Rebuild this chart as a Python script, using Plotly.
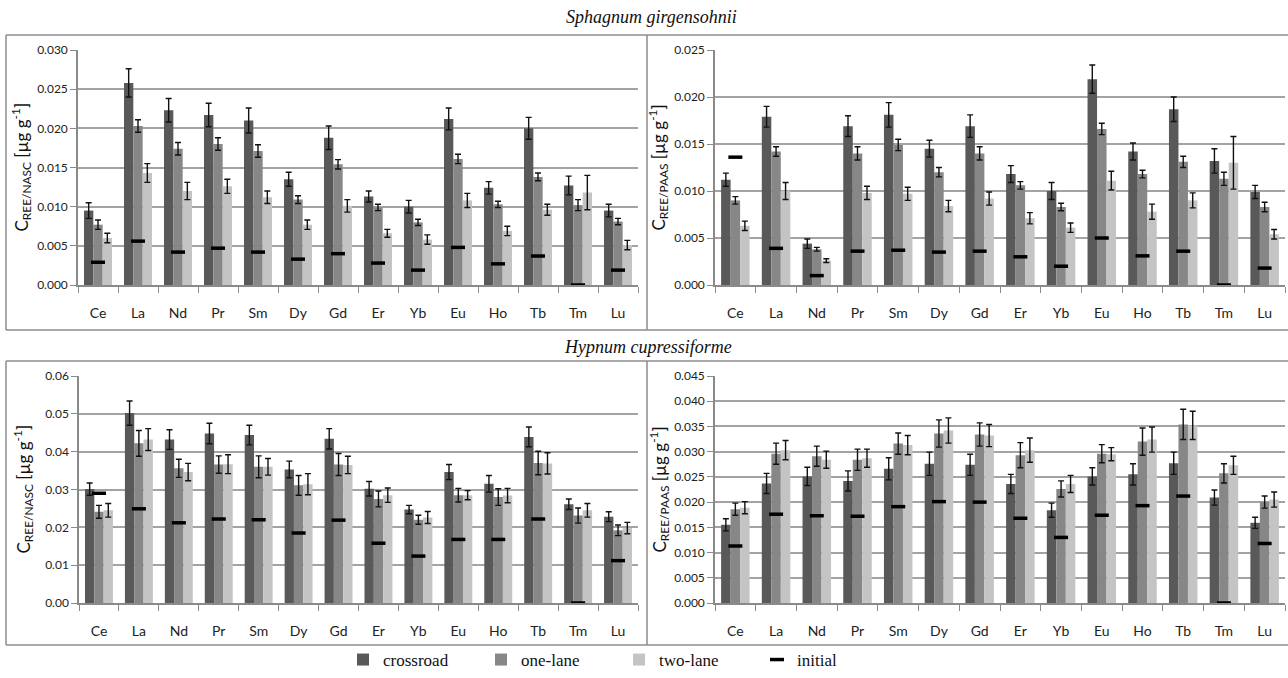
import plotly.graph_objects as go

# Rare earth elements along the x axis
elements = ["Ce", "La", "Nd", "Pr", "Sm", "Dy", "Gd", "Er", "Yb", "Eu", "Ho", "Tb", "Tm", "Lu"]

# Sphagnum girgensohnii, normalised to NASC
sg_nasc_cross = [0.0095, 0.0258, 0.0223, 0.0217, 0.0210, 0.0135, 0.0188, 0.0113, 0.0100, 0.0212, 0.0124, 0.0200, 0.0127, 0.0095]
sg_nasc_cross_err = [0.0010, 0.0018, 0.0015, 0.0015, 0.0016, 0.0009, 0.0015, 0.0007, 0.0008, 0.0014, 0.0008, 0.0014, 0.0012, 0.0008]
sg_nasc_one = [0.0077, 0.0203, 0.0174, 0.0180, 0.0171, 0.0109, 0.0154, 0.0099, 0.0080, 0.0161, 0.0103, 0.0138, 0.0102, 0.0081]
sg_nasc_one_err = [0.0006, 0.0008, 0.0008, 0.0008, 0.0008, 0.0005, 0.0006, 0.0004, 0.0004, 0.0006, 0.0004, 0.0005, 0.0007, 0.0004]
sg_nasc_two = [0.0060, 0.0143, 0.0120, 0.0126, 0.0112, 0.0077, 0.0101, 0.0066, 0.0058, 0.0108, 0.0069, 0.0096, 0.0118, 0.0051]
sg_nasc_two_err = [0.0006, 0.0012, 0.0011, 0.0009, 0.0008, 0.0006, 0.0008, 0.0005, 0.0006, 0.0009, 0.0006, 0.0007, 0.0022, 0.0006]
sg_nasc_init = [0.0029, 0.0056, 0.0042, 0.0047, 0.0042, 0.0033, 0.0040, 0.0028, 0.0019, 0.0048, 0.0027, 0.0037, 0.0000, 0.0019]

# Sphagnum girgensohnii, normalised to PAAS
sg_paas_cross = [0.0112, 0.0179, 0.0044, 0.0169, 0.0181, 0.0145, 0.0169, 0.0118, 0.0100, 0.0219, 0.0142, 0.0187, 0.0132, 0.0099]
sg_paas_cross_err = [0.0007, 0.0011, 0.0005, 0.0011, 0.0013, 0.0009, 0.0012, 0.0009, 0.0009, 0.0015, 0.0009, 0.0013, 0.0013, 0.0007]
sg_paas_one = [0.0090, 0.0142, 0.0038, 0.0140, 0.0149, 0.0120, 0.0140, 0.0106, 0.0083, 0.0166, 0.0118, 0.0131, 0.0113, 0.0083]
sg_paas_one_err = [0.0004, 0.0005, 0.0002, 0.0007, 0.0006, 0.0005, 0.0007, 0.0004, 0.0004, 0.0006, 0.0004, 0.0006, 0.0007, 0.0005]
sg_paas_two = [0.0063, 0.0100, 0.0026, 0.0098, 0.0097, 0.0084, 0.0092, 0.0071, 0.0061, 0.0111, 0.0078, 0.0090, 0.0130, 0.0054]
sg_paas_two_err = [0.0005, 0.0009, 0.0002, 0.0007, 0.0007, 0.0006, 0.0007, 0.0006, 0.0005, 0.0010, 0.0008, 0.0008, 0.0028, 0.0005]
sg_paas_init = [0.0136, 0.0039, 0.0010, 0.0036, 0.0037, 0.0035, 0.0036, 0.0030, 0.0020, 0.0050, 0.0031, 0.0036, 0.0000, 0.0018]

# Hypnum cupressiforme, normalised to NASC
hc_nasc_cross = [0.0301, 0.0502, 0.0432, 0.0448, 0.0444, 0.0353, 0.0434, 0.0302, 0.0247, 0.0346, 0.0315, 0.0439, 0.0261, 0.0228]
hc_nasc_cross_err = [0.0016, 0.0032, 0.0026, 0.0027, 0.0026, 0.0022, 0.0027, 0.0019, 0.0011, 0.0020, 0.0022, 0.0026, 0.0014, 0.0013]
hc_nasc_one = [0.0241, 0.0422, 0.0356, 0.0366, 0.0360, 0.0311, 0.0366, 0.0275, 0.0220, 0.0285, 0.0280, 0.0370, 0.0231, 0.0192]
hc_nasc_one_err = [0.0017, 0.0034, 0.0024, 0.0023, 0.0029, 0.0026, 0.0029, 0.0021, 0.0012, 0.0018, 0.0022, 0.0031, 0.0020, 0.0014]
hc_nasc_two = [0.0245, 0.0432, 0.0346, 0.0367, 0.0360, 0.0314, 0.0365, 0.0285, 0.0226, 0.0285, 0.0284, 0.0369, 0.0245, 0.0198]
hc_nasc_two_err = [0.0018, 0.0029, 0.0023, 0.0025, 0.0022, 0.0028, 0.0023, 0.0019, 0.0016, 0.0012, 0.0019, 0.0028, 0.0018, 0.0015]
hc_nasc_init = [0.0290, 0.0249, 0.0212, 0.0222, 0.0220, 0.0185, 0.0219, 0.0158, 0.0124, 0.0168, 0.0168, 0.0222, 0.0000, 0.0112]

# Hypnum cupressiforme, normalised to PAAS
hc_paas_cross = [0.0155, 0.0237, 0.0251, 0.0242, 0.0266, 0.0276, 0.0274, 0.0236, 0.0184, 0.0251, 0.0255, 0.0277, 0.0209, 0.0159]
hc_paas_cross_err = [0.0012, 0.0020, 0.0018, 0.0020, 0.0022, 0.0023, 0.0021, 0.0019, 0.0014, 0.0017, 0.0021, 0.0022, 0.0015, 0.0011]
hc_paas_one = [0.0186, 0.0296, 0.0291, 0.0284, 0.0316, 0.0336, 0.0334, 0.0293, 0.0226, 0.0296, 0.0320, 0.0354, 0.0257, 0.0200]
hc_paas_one_err = [0.0012, 0.0021, 0.0020, 0.0021, 0.0021, 0.0027, 0.0023, 0.0025, 0.0016, 0.0018, 0.0027, 0.0030, 0.0019, 0.0012]
hc_paas_two = [0.0189, 0.0303, 0.0284, 0.0287, 0.0313, 0.0342, 0.0332, 0.0303, 0.0236, 0.0295, 0.0324, 0.0352, 0.0273, 0.0205]
hc_paas_two_err = [0.0012, 0.0019, 0.0017, 0.0018, 0.0019, 0.0025, 0.0022, 0.0024, 0.0017, 0.0013, 0.0025, 0.0028, 0.0018, 0.0015]
hc_paas_init = [0.0113, 0.0176, 0.0173, 0.0172, 0.0191, 0.0201, 0.0200, 0.0168, 0.0130, 0.0174, 0.0193, 0.0212, 0.0000, 0.0118]

series_names = ["crossroad", "one-lane", "two-lane"]
series_colors = ["#595959", "#878787", "#c4c4c4"]

SERIF = "Liberation Serif, Times New Roman, serif"
SANS = "Lato, Open Sans, sans-serif"

W, H = 1288, 678


def px_x(v):
    return v / W


def px_y(v):
    return 1 - v / H


# (axis suffix, x domain px, y domain px, data, y max, dtick, tick format, norm label)
panels = [
    ("", (78, 638), (50, 285),
     (sg_nasc_cross, sg_nasc_cross_err, sg_nasc_one, sg_nasc_one_err, sg_nasc_two, sg_nasc_two_err, sg_nasc_init),
     0.030, 0.005, ".3f", "NASC"),
    ("2", (715, 1285), (50, 285),
     (sg_paas_cross, sg_paas_cross_err, sg_paas_one, sg_paas_one_err, sg_paas_two, sg_paas_two_err, sg_paas_init),
     0.025, 0.005, ".3f", "PAAS"),
    ("3", (79, 638), (376, 603),
     (hc_nasc_cross, hc_nasc_cross_err, hc_nasc_one, hc_nasc_one_err, hc_nasc_two, hc_nasc_two_err, hc_nasc_init),
     0.06, 0.01, ".2f", "NASC"),
    ("4", (715, 1285), (376, 603),
     (hc_paas_cross, hc_paas_cross_err, hc_paas_one, hc_paas_one_err, hc_paas_two, hc_paas_two_err, hc_paas_init),
     0.045, 0.005, ".3f", "PAAS"),
]

fig = go.Figure()
layout = {}
annotations = []

for idx, (sfx, xd, yd, data, ymax, dt, fmt, norm) in enumerate(panels):
    cross, cross_e, one, one_e, two, two_e, init = data
    xa = "x" + sfx
    ya = "y" + sfx
    first = idx == 0
    for name, color, vals, errs in zip(series_names, series_colors,
                                       (cross, one, two), (cross_e, one_e, two_e)):
        fig.add_trace(go.Bar(
            x=elements, y=vals, name=name, marker=dict(color=color, line=dict(width=0)),
            error_y=dict(type="data", array=errs, color="#111111", thickness=1.4, width=3),
            xaxis=xa, yaxis=ya, legendgroup=name, showlegend=first,
        ))
    fig.add_trace(go.Scatter(
        x=elements, y=init, name="initial", mode="markers",
        marker=dict(symbol="line-ew-open", size=10, color="#000000",
                    line=dict(width=3.5, color="#000000")),
        xaxis=xa, yaxis=ya, legendgroup="initial", showlegend=first, cliponaxis=False,
    ))

    layout["xaxis" + sfx] = dict(
        domain=[px_x(xd[0]), px_x(xd[1])], anchor=ya, type="category", automargin=False,
        range=[-0.5, len(elements) - 0.5],
        showline=True, linecolor="#8a8a8a", linewidth=1.5,
        ticks="outside", tickson="boundaries", ticklen=6, tickcolor="#8a8a8a",
        ticklabelstandoff=14,
        tickfont=dict(family=SANS, size=14, color="#222222"), showgrid=False,
    )
    layout["yaxis" + sfx] = dict(
        domain=[px_y(yd[1]), px_y(yd[0])], anchor=xa, range=[0, ymax], dtick=dt,
        tickformat=fmt, automargin=False, showline=True, linecolor="#8a8a8a", linewidth=1.5,
        ticks="outside", ticklen=6, tickcolor="#8a8a8a",
        showgrid=True, gridcolor="#a3a3a3", gridwidth=1.5, zeroline=False,
        tickfont=dict(family=SANS, size=12, color="#222222"),
    )
    # rotated axis title
    annotations.append(dict(
        x=px_x(xd[0] - 56), y=px_y((yd[0] + yd[1]) / 2), xref="paper", yref="paper",
        text="C<sub>REE/" + norm + "</sub> [µg g<sup>-1</sup>]", textangle=-90, showarrow=False,
        font=dict(family=SANS, size=17, color="#111111"), xanchor="center", yanchor="middle",
    ))

# species headings
annotations.append(dict(x=px_x(651), y=px_y(17), xref="paper", yref="paper",
                        xanchor="center", yanchor="middle",
                        text="<i>Sphagnum girgensohnii</i>", showarrow=False,
                        font=dict(family=SERIF, size=18, color="#111111")))
annotations.append(dict(x=px_x(648), y=px_y(347), xref="paper", yref="paper",
                        xanchor="center", yanchor="middle",
                        text="<i>Hypnum cupressiforme</i>", showarrow=False,
                        font=dict(family=SERIF, size=18, color="#111111")))

# frames around the panels
frame = dict(type="line", xref="paper", yref="paper", line=dict(color="#8c8c8c", width=1.5))
shapes = []
for top, bottom in ((35, 330), (361, 645)):
    shapes.append(dict(frame, x0=px_x(6), x1=1, y0=px_y(top), y1=px_y(top)))
    shapes.append(dict(frame, x0=px_x(6), x1=1, y0=px_y(bottom), y1=px_y(bottom)))
    shapes.append(dict(frame, x0=px_x(6), x1=px_x(6), y0=px_y(top), y1=px_y(bottom)))
    shapes.append(dict(frame, x0=px_x(647), x1=px_x(647), y0=px_y(top), y1=px_y(bottom)))

fig.update_layout(
    width=W, height=H, margin=dict(l=0, r=0, t=0, b=0, autoexpand=False),
    paper_bgcolor="white", plot_bgcolor="white",
    barmode="group", bargap=0.3, bargroupgap=0.0,
    annotations=annotations, shapes=shapes,
    legend=dict(orientation="h", x=px_x(343), y=px_y(660), xanchor="left", yanchor="middle",
                entrywidth=93, entrywidthmode="pixels", itemwidth=30,
                font=dict(family=SERIF, size=17, color="#111111"),
                bgcolor="rgba(0,0,0,0)"),
    **layout,
)

fig.write_html("out.html")
